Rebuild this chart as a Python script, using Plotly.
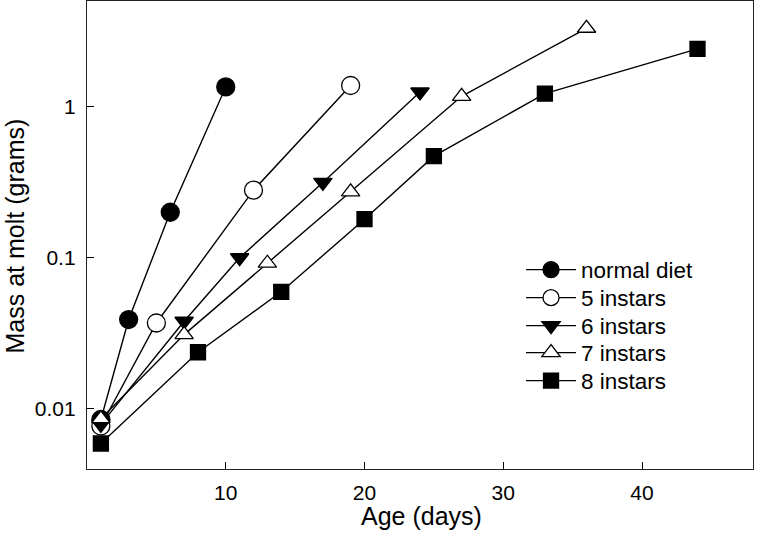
import plotly.graph_objects as go

# Data
normal_x = [1, 3, 6, 10]
normal_y = [0.0085, 0.039, 0.20, 1.35]

i5_x = [1, 5, 12, 19]
i5_y = [0.0077, 0.037, 0.28, 1.38]

i6_x = [1, 7, 11, 17, 24]
i6_y = [0.0079, 0.038, 0.10, 0.315, 1.25]

i7_x = [1, 7, 13, 19, 27, 36]
i7_y = [0.0086, 0.031, 0.092, 0.273, 1.17, 3.3]

i8_x = [1, 8, 14, 20, 25, 33, 44]
i8_y = [0.0059, 0.0237, 0.0595, 0.18, 0.47, 1.22, 2.41]

series_names = ["normal diet", "5 instars", "6 instars", "7 instars", "8 instars"]
x_ticks = [10, 20, 30, 40]
y_ticks = [0.01, 0.1, 1]
y_tick_labels = ["0.01", "0.1", "1"]

styles = [
    ("circle", "black", 18),
    ("circle", "white", 18),
    ("triangle-down", "black", 16),
    ("triangle-up", "white", 16),
    ("square", "black", 15),
]
xs_all = [normal_x, i5_x, i6_x, i7_x, i8_x]
ys_all = [normal_y, i5_y, i6_y, i7_y, i8_y]

FONT = "Liberation Sans, Arial, sans-serif"

fig = go.Figure()
legend_keys = ["legend", "legend2", "legend3", "legend4", "legend5"]
for k, (name, xs, ys, (sym, fill, size)) in enumerate(zip(series_names, xs_all, ys_all, styles)):
    fig.add_trace(go.Scatter(
        x=xs, y=ys, name=name, mode="lines+markers",
        line=dict(color="black", width=1.4),
        marker=dict(symbol=sym, size=size, color=fill,
                    line=dict(color="black", width=1.3)),
        legend=legend_keys[k],
    ))

# one legend box per entry so row spacing matches the reference
row_y = [0.4274, 0.3675, 0.3077, 0.25, 0.1902]
row_y = [v - 1 / 468 for v in row_y]
legend_common = dict(x=0.6517, xanchor="left", yanchor="middle",
                     font=dict(size=22.5, family=FONT, color="black"),
                     bgcolor="rgba(0,0,0,0)", itemwidth=50)
layout_legends = {}
for key, yy in zip(legend_keys, row_y):
    layout_legends[key] = dict(legend_common, y=yy)

fig.update_layout(
    width=757, height=543,
    margin=dict(l=87, r=4, t=1, b=74),
    paper_bgcolor="white", plot_bgcolor="white",
    font=dict(family=FONT, color="black", size=21),
    showlegend=True,
    xaxis=dict(
        range=[0, 48], tickvals=x_ticks,
        ticks="inside", ticklen=7, tickwidth=1.2, tickcolor="black",
        showline=True, linecolor="#222", linewidth=1.3, mirror=True,
        showgrid=False, zeroline=False, automargin=False,
        tickfont=dict(size=21),
        ticklabelstandoff=5,
    ),
    yaxis=dict(
        type="log", range=[-2.398, 0.699],
        tickvals=y_ticks, ticktext=y_tick_labels,
        ticks="inside", ticklen=7, tickwidth=1.2, tickcolor="black",
        showline=True, linecolor="#222", linewidth=1.3, mirror=True,
        showgrid=False, zeroline=False, automargin=False,
        tickfont=dict(size=21),
        ticklabelstandoff=6,
    ),
    annotations=[
        dict(text="Age (days)", xref="paper", yref="paper",
             x=0.503, y=-0.1, xanchor="center", yanchor="middle",
             showarrow=False, font=dict(size=25, family=FONT)),
        dict(text="Mass at molt (grams)", xref="paper", yref="paper",
             x=-0.108, y=0.497, xanchor="center", yanchor="middle",
             textangle=-90, showarrow=False, font=dict(size=25, family=FONT)),
    ],
    **layout_legends,
)

fig.write_html("out.html", config={"displayModeBar": False},
               post_script="document.body.style.margin='0px';")
